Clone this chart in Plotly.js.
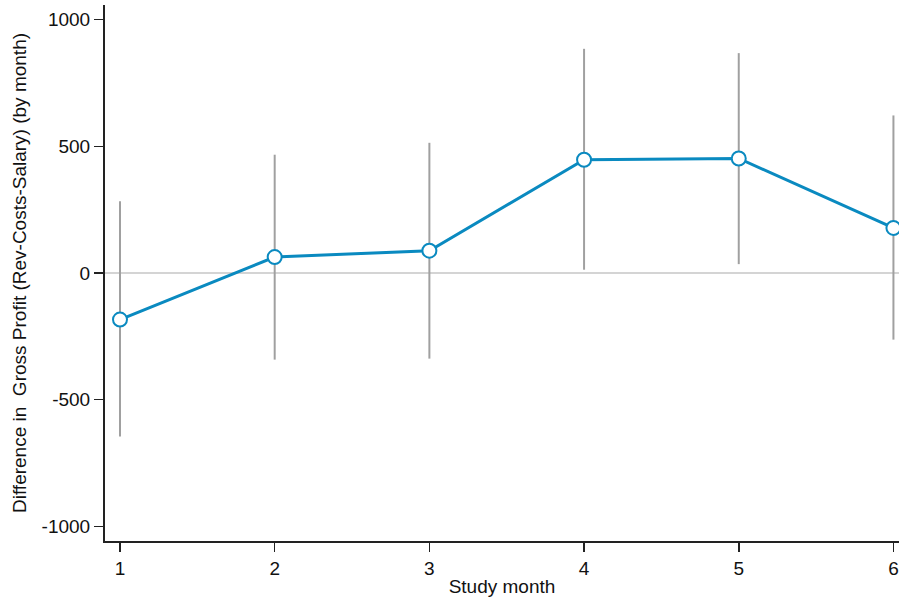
<!DOCTYPE html>
<html>
<head>
<meta charset="utf-8">
<script src="https://cdn.plot.ly/plotly-3.0.1.min.js"></script>
<style>html,body{margin:0;padding:0;background:#fff;}#chart{width:899px;height:597px;}</style>
</head>
<body>
<div id="chart"></div>
<script>
const months = [1, 2, 3, 4, 5, 6];
const estimate = [-184, 63, 88, 447, 452, 178];
const ciLow = [-645, -342, -338, 13, 35, -263];
const ciHigh = [283, 467, 514, 885, 868, 622];
const yTicks = [-1000, -500, 0, 500, 1000];

const trace = {
  x: months,
  y: estimate,
  type: 'scatter',
  mode: 'lines+markers',
  line: {color: '#0a8ac0', width: 3},
  marker: {size: 14, color: '#ffffff', line: {color: '#0a8ac0', width: 2}},
  error_y: {
    type: 'data',
    symmetric: false,
    array: ciHigh.map((h, i) => h - estimate[i]),
    arrayminus: ciLow.map((l, i) => estimate[i] - l),
    color: '#a0a0a0',
    thickness: 2,
    width: 0
  },
  cliponaxis: true,
  hoverinfo: 'none'
};

const layout = {
  width: 899,
  height: 597,
  margin: {l: 105, r: 0, t: 5, b: 56},
  paper_bgcolor: '#ffffff',
  plot_bgcolor: '#ffffff',
  showlegend: false,
  font: {family: 'Liberation Sans, Arial, sans-serif', size: 19, color: '#111'},
  xaxis: {
    range: [0.903, 6.036],
    tickvals: months,
    ticktext: months.map(String),
    showgrid: false,
    zeroline: false,
    showline: true,
    linecolor: '#222',
    linewidth: 2,
    ticks: 'outside',
    ticklen: 9,
    tickwidth: 1.5,
    tickcolor: '#222',
    tickfont: {size: 19},
    title: {text: 'Study month', font: {size: 19}, standoff: 4}
  },
  yaxis: {
    range: [-1058, 1058],
    tickvals: yTicks,
    ticktext: yTicks.map(String),
    showgrid: false,
    zeroline: true,
    zerolinecolor: '#d4d4d4',
    zerolinewidth: 2,
    showline: true,
    linecolor: '#222',
    linewidth: 2,
    ticks: 'outside',
    ticklen: 9,
    tickwidth: 1.5,
    tickcolor: '#222',
    tickfont: {size: 19},
    title: {text: 'Difference in  Gross Profit (Rev-Costs-Salary) (by month)', font: {size: 19}, standoff: 10}
  }
};

Plotly.newPlot('chart', [trace], layout, {displayModeBar: false, staticPlot: true});
</script>
</body>
</html>
